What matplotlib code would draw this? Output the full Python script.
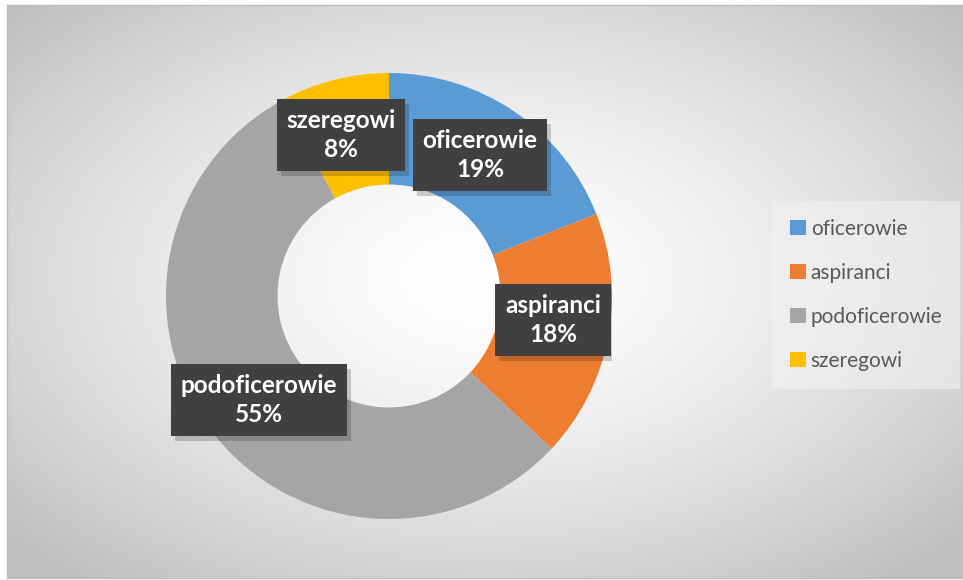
import numpy as np
import matplotlib
matplotlib.use("Agg")
import matplotlib.pyplot as plt
from matplotlib.patches import Rectangle

categories = ["oficerowie", "aspiranci", "podoficerowie", "szeregowi"]
values = [19, 18, 55, 8]
colors = ["#5B9BD5", "#ED7D31", "#A5A5A5", "#FFC000"]
# label positions (layout, data units of pie axes)
label_pos = [(0.408, 0.632), (0.735, -0.108), (-0.583, -0.466), (-0.215, 0.722)]

W, H = 963, 580
fig = plt.figure(figsize=(W / 100, H / 100), dpi=100)
fig.patch.set_facecolor("white")

# background with radial gradient
bx0, by0, bx1, by1 = 7, 5, 963, 578  # pixel frame (top-down)
bg = fig.add_axes([bx0 / W, 1 - by1 / H, (bx1 - bx0) / W, (by1 - by0) / H])
nx, ny = 400, 240
xx, yy = np.meshgrid(np.linspace(-1, 1, nx), np.linspace(-1, 1, ny))
cx, cy = 0.0, -0.05
r = np.sqrt((xx - cx) ** 2 + (yy - cy) ** 2)
r = np.clip(r / 1.35, 0, 1)
lum = 1.0 - 0.25 * r ** 1.5
img = np.dstack([lum, lum, lum])
bg.imshow(img, extent=[0, 1, 0, 1], aspect="auto", origin="upper")
bg.set_xlim(0, 1)
bg.set_ylim(0, 1)
bg.set_xticks([])
bg.set_yticks([])
for s in bg.spines.values():
    s.set_color("#bdbdbd")
    s.set_linewidth(1.0)

# pie axes
pcx, pcy, R = 389, 296, 223
ax = fig.add_axes([(pcx - R) / W, 1 - (pcy + R) / H, 2 * R / W, 2 * R / H])
ax.set_facecolor("none")
wedges, _ = ax.pie(values, colors=colors, startangle=90, counterclock=False,
                   radius=1.0, wedgeprops=dict(width=0.5, edgecolor="none"))
ax.set_xlim(-1, 1)
ax.set_ylim(-1, 1)
ax.axis("off")

labels = []
for cat, val, (lx, ly) in zip(categories, values, label_pos):
    t = ax.text(lx, ly, f"{cat}\n{val}%", ha="center", va="center",
                fontsize=17.5, fontweight="bold", family="Lato", color="white",
                linespacing=1.35, zorder=5,
                bbox=dict(boxstyle="square,pad=0.4", facecolor="#404040",
                          edgecolor="none"))
    labels.append(t)

leg = fig.legend(wedges, categories, loc="center left",
                 bbox_to_anchor=(768 / W, 1 - 295 / H),
                 frameon=True, handlelength=0.75, handleheight=0.75,
                 handletextpad=0.25, labelspacing=1.15, borderpad=0.55,
                 prop=dict(family="Lato", size=15))
leg.get_frame().set_facecolor("#f2f2f2")
leg.get_frame().set_alpha(0.6)
leg.get_frame().set_edgecolor("none")
leg.get_frame().set_boxstyle("square")
for t in leg.get_texts():
    t.set_color("#595959")

# soft drop shadows behind the label boxes
fig.canvas.draw()
for t in labels:
    bb = t.get_bbox_patch().get_window_extent()
    sh = Rectangle((bb.x0 + 4, bb.y0 - 5), bb.width, bb.height,
                   transform=None, facecolor="black", alpha=0.18,
                   edgecolor="none", zorder=4)
    ax.add_artist(sh)

fig.savefig("out.png", dpi=100)
